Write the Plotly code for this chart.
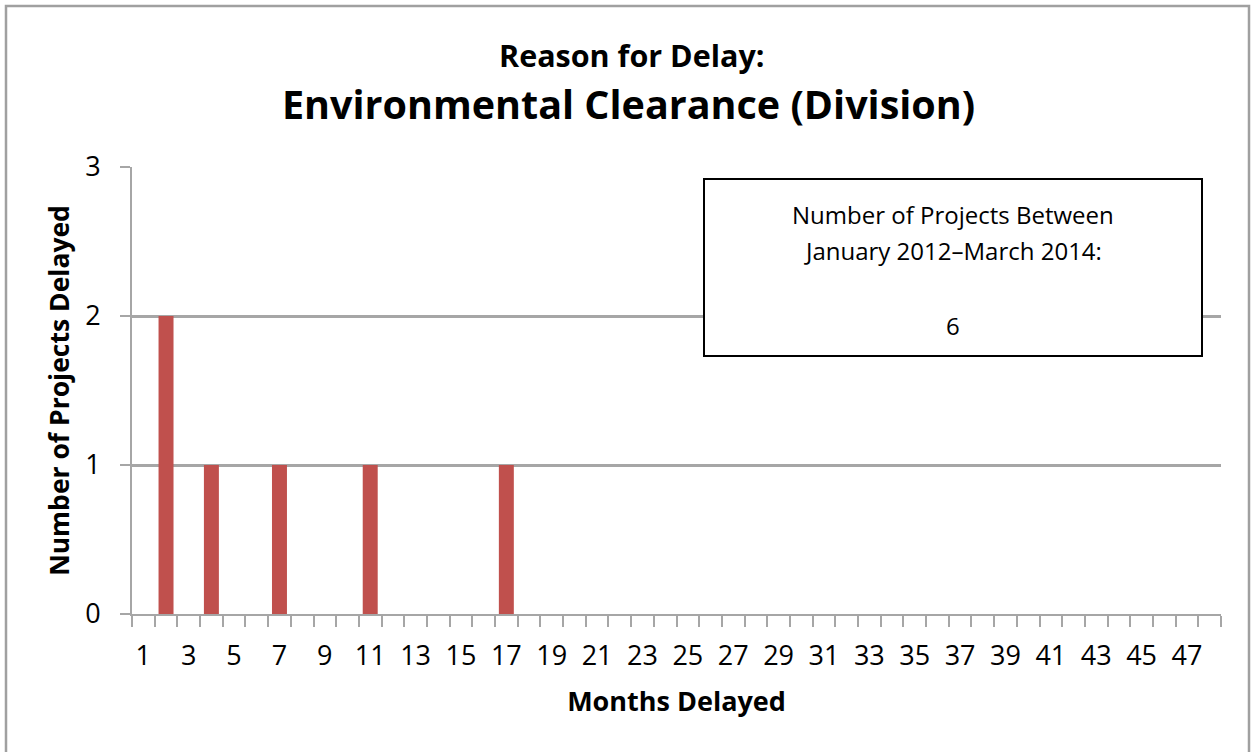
import plotly.graph_objects as go

# Data
months = list(range(1, 49))
counts_by_month = {2: 2, 4: 1, 7: 1, 11: 1, 17: 1}
counts = [counts_by_month.get(m, 0) for m in months]
tick_labels = [str(m) for m in range(1, 48, 2)]
tick_values = list(range(1, 48, 2))
total_projects = 6

title_line1 = "Reason for Delay:"
title_line2 = "Environmental Clearance (Division)"
box_line1 = "Number of Projects Between"
box_line2 = "January 2012\u2013March 2014:"

FONT = "Open Sans"
GRID = "#a6a6a6"

fig = go.Figure()
fig.add_trace(go.Bar(
    x=months, y=counts, width=0.66,
    marker=dict(color="#C0504D", line=dict(width=0)),
    showlegend=False, hoverinfo="x+y",
))

L, R, T, B = 132, 31, 167, 138
W, H = 1252, 752
pw = W - L - R
ph = H - T - B

def px_x(x):
    return (x - L) / pw

def px_y(y):
    return (H - B - y) / ph

fig.update_layout(
    width=W, height=H,
    margin=dict(l=L, r=R, t=T, b=B),
    paper_bgcolor="white", plot_bgcolor="white",
    font=dict(family=FONT, color="black"),
    bargap=0.34,
    xaxis=dict(
        range=[0.5, 48.5],
        tickvals=tick_values, ticktext=tick_labels,
        tickfont=dict(size=27, family=FONT),
        ticks="outside", ticklen=11, tickcolor="rgba(0,0,0,0)", tickwidth=1,
        ticklabelstandoff=6,
        showgrid=False,
        showline=True, linecolor=GRID, linewidth=2,
        minor=dict(tickvals=[m + 0.5 for m in range(0, 49)], ticks="outside",
                   ticklen=11, tickcolor=GRID, tickwidth=2, showgrid=False),
        title=dict(text="<b>Months Delayed</b>", font=dict(size=27, family=FONT), standoff=20),
        fixedrange=True, zeroline=False,
    ),
    yaxis=dict(
        range=[0, 3], dtick=1, tick0=0,
        tickfont=dict(size=27, family=FONT),
        ticks="outside", ticklen=10, tickcolor=GRID, tickwidth=2,
        ticklabelstandoff=14,
        showgrid=True, gridcolor=GRID, gridwidth=2.5,
        showline=True, linecolor=GRID, linewidth=2,
        zeroline=False,
        title=dict(text="<b>Number of Projects Delayed</b>", font=dict(size=26.5, family=FONT), standoff=8),
        fixedrange=True,
    ),
)

# Outer chart border
fig.add_shape(type="rect", xref="paper", yref="paper",
              x0=px_x(6), x1=px_x(1249), y0=px_y(770), y1=px_y(6),
              line=dict(color="#a0a0a0", width=2.5), fillcolor="rgba(0,0,0,0)", layer="below")

# Info box
fig.add_shape(type="rect", xref="paper", yref="paper",
              x0=px_x(704), x1=px_x(1202), y0=px_y(356), y1=px_y(179),
              line=dict(color="black", width=2), fillcolor="white", layer="above")

# Titles
fig.add_annotation(text="<b>" + title_line1 + "</b>", xref="paper", yref="paper",
                   x=px_x(631), y=px_y(55), showarrow=False,
                   font=dict(size=30.5, family=FONT), xanchor="center", yanchor="middle")
fig.add_annotation(text="<b>" + title_line2 + "</b>", xref="paper", yref="paper",
                   x=px_x(628), y=px_y(104), showarrow=False,
                   font=dict(size=39.5, family=FONT), xanchor="center", yanchor="middle")

# Box text
bx = px_x(953)
fig.add_annotation(text=box_line1, xref="paper", yref="paper", x=bx, y=px_y(215),
                   showarrow=False, font=dict(size=24, family=FONT), xanchor="center", yanchor="middle")
fig.add_annotation(text=box_line2, xref="paper", yref="paper", x=bx, y=px_y(250),
                   showarrow=False, font=dict(size=24, family=FONT), xanchor="center", yanchor="middle")
fig.add_annotation(text=str(total_projects), xref="paper", yref="paper", x=bx, y=px_y(325),
                   showarrow=False, font=dict(size=24, family=FONT), xanchor="center", yanchor="middle")

fig.write_html("out.html", config={"displayModeBar": False},
               post_script="document.body.style.margin='0px';document.body.style.padding='0px';")
